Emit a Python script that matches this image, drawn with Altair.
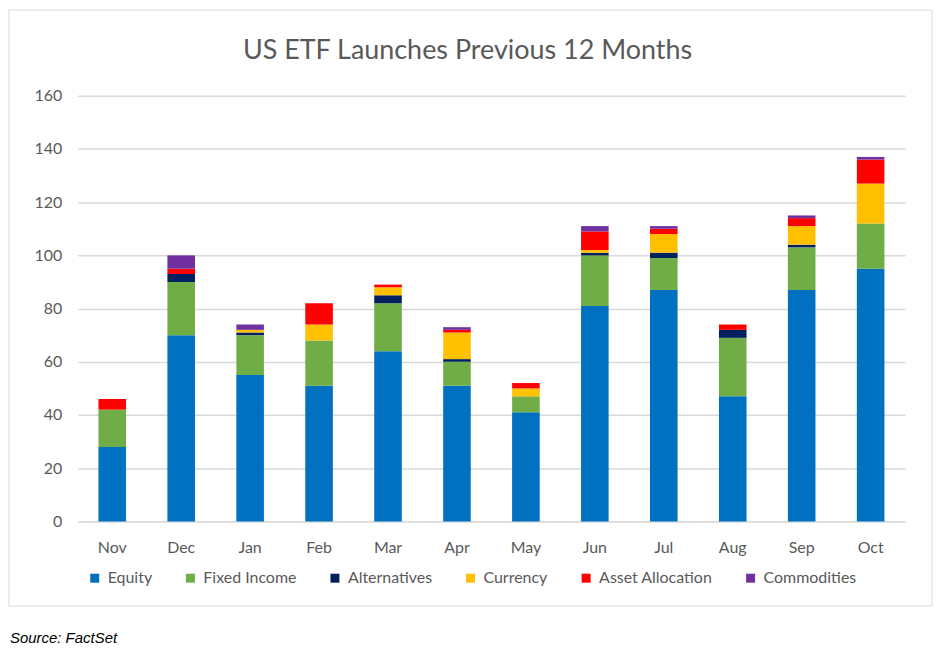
import altair as alt
import pandas as pd

months = ["Nov", "Dec", "Jan", "Feb", "Mar", "Apr", "May", "Jun", "Jul", "Aug", "Sep", "Oct"]
categories = ["Equity", "Fixed Income", "Alternatives", "Currency", "Asset Allocation", "Commodities"]
colors = ["#0070C0", "#70AD47", "#002060", "#FFC000", "#FF0000", "#7030A0"]

equity = [28, 70, 55, 51, 64, 51, 41, 81, 87, 47, 87, 95]
fixed_income = [14, 20, 15, 17, 18, 9, 6, 19, 12, 22, 16, 17]
alternatives = [0, 3, 1, 0, 3, 1, 0, 1, 2, 3, 1, 0]
currency = [0, 0, 1, 6, 3, 10, 3, 1, 7, 0, 7, 15]
asset_allocation = [4, 2, 0, 8, 1, 1, 2, 7, 2, 2, 3, 9]
commodities = [0, 5, 2, 0, 0, 1, 0, 2, 1, 0, 1, 1]

y_ticks = [0, 20, 40, 60, 80, 100, 120, 140, 160]

series = [equity, fixed_income, alternatives, currency, asset_allocation, commodities]
rows = []
for ci, (cat, vals) in enumerate(zip(categories, series)):
    for m, v in zip(months, vals):
        rows.append({"Month": m, "Category": cat, "Value": v, "idx": ci})
df = pd.DataFrame(rows)

FONT = "Lato"
GRAY = "#595959"

W, H = 830, 427

bars = alt.Chart(df).mark_bar().encode(
    x=alt.X("Month:N", sort=months, title=None,
            scale=alt.Scale(paddingInner=0.6, paddingOuter=0.3),
            axis=alt.Axis(labelAngle=0, ticks=False, domainColor="#D9D9D9", domainWidth=1.5,
                          labelFont=FONT, labelFontSize=16, labelColor=GRAY, labelPadding=18)),
    y=alt.Y("Value:Q", stack="zero", title=None,
            scale=alt.Scale(domain=[0, 160], nice=False),
            axis=alt.Axis(values=y_ticks, ticks=False, domain=False, gridColor="#D9D9D9", gridWidth=1.5,
                          labelFont=FONT, labelFontSize=16, labelColor=GRAY, labelPadding=16)),
    color=alt.Color("Category:N", scale=alt.Scale(domain=categories, range=colors),
                    legend=alt.Legend(orient="none", legendX=9, legendY=476, direction="horizontal",
                                      columns=6, title=None, symbolType="square", symbolSize=81,
                                      symbolStrokeWidth=0, labelFont=FONT, labelFontSize=16,
                                      labelColor=GRAY, columnPadding=30, labelOffset=5, padding=0)),
    order=alt.Order("idx:Q", sort="ascending"),
)

one = pd.DataFrame({"a": [0]})

border = alt.Chart(one).mark_rect(fill="white", fillOpacity=0, stroke="#D9D9D9", strokeWidth=1).encode(
    x=alt.value(-69), x2=alt.value(857), y=alt.value(-86), y2=alt.value(512)
)

title = alt.Chart(one).mark_text(text="US ETF Launches Previous 12 Months", font=FONT, fontSize=27,
                                 color=GRAY, align="center", baseline="alphabetic").encode(
    x=alt.value(391), y=alt.value(-37)
)

source = alt.Chart(one).mark_text(text="Source: FactSet", font="Liberation Sans", fontSize=15,
                                  fontStyle="italic", color="#000000", align="left",
                                  baseline="alphabetic").encode(
    x=alt.value(-68), y=alt.value(549)
)

chart = alt.layer(border, bars, title, source).properties(
    width=W, height=H,
    padding={"left": 70, "top": 87, "right": 30, "bottom": 128},
    autosize=alt.AutoSizeParams(type="none"),
).configure_view(stroke=None)

chart.save("out.html", embed_options={"renderer": "svg", "actions": False})
